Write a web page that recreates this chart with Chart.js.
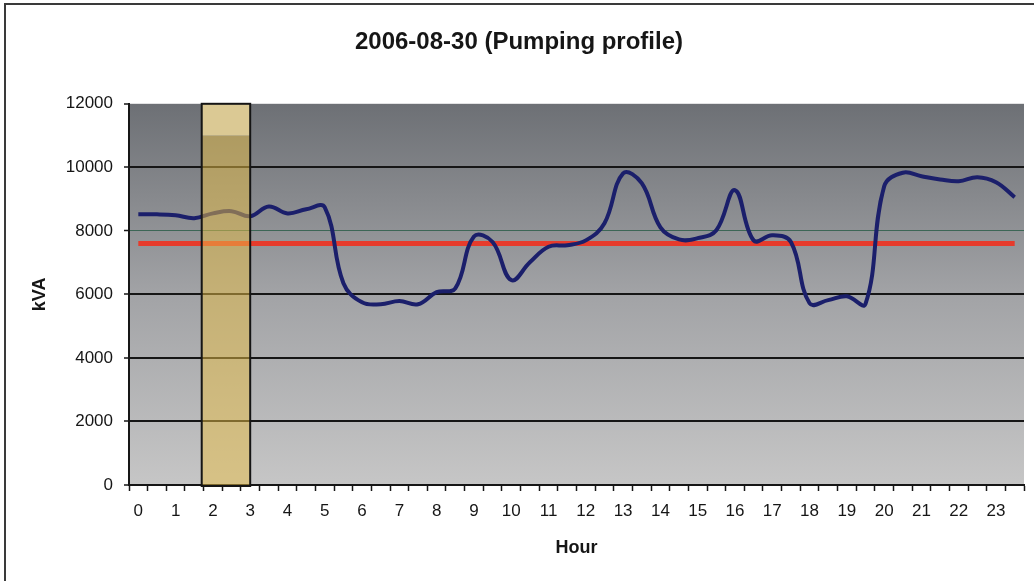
<!DOCTYPE html>
<html>
<head>
<meta charset="utf-8">
<title>2006-08-30 (Pumping profile)</title>
<script src="https://cdn.jsdelivr.net/npm/chart.js@4/dist/chart.umd.min.js"></script>
<style>
  html, body { margin: 0; padding: 0; background: #fff; }
  #wrap { width: 1034px; height: 581px; }
</style>
</head>
<body>
<div id="wrap"><canvas id="chart" width="1034" height="581"></canvas></div>
<script>
// ── Data ─────────────────────────────────────────────
// Half-hourly readings (hour of day) and measured load in kVA
const HOURS = [
  0, 0.5, 1, 1.5, 2, 2.5, 3, 3.5, 4, 4.5, 5, 5.5,
  6, 6.5, 7, 7.5, 8, 8.5, 9, 9.5, 10, 10.5, 11, 11.5,
  12, 12.5, 13, 13.5, 14, 14.5, 15, 15.5, 16, 16.5, 17, 17.5,
  18, 18.5, 19, 19.5, 20, 20.5, 21, 21.5, 22, 22.5, 23, 23.5
];
const LOAD_KVA = [
  8520, 8520, 8490, 8400, 8550, 8620, 8460, 8770, 8550, 8680, 8740, 6350,
  5750, 5690, 5790, 5690, 6070, 6190, 7820, 7650, 6450, 7010, 7500, 7550,
  7700, 8240, 9810, 9500, 8110, 7730, 7770, 8020, 9280, 7700, 7860, 7650,
  5720, 5820, 5940, 5700, 9400, 9830, 9720, 9620, 9560, 9690, 9530, 9060
];

// Average demand line (kVA), from first to last reading
const AVG_HOURS = [0, 23.5];
const AVG_KVA = [7600, 7600];

// Pumping window shaded on the plot (hours)
const WINDOW_HOURS = [1.7, 3.0];

// Axis labels
const HOUR_LABELS = ['0', '1', '2', '3', '4', '5', '6', '7', '8', '9', '10', '11',
  '12', '13', '14', '15', '16', '17', '18', '19', '20', '21', '22', '23'];
const Y_MIN = 0, Y_MAX = 12000, Y_STEP = 2000;

const FONT = "'Liberation Sans', Arial, sans-serif";
const INK = '#161616';

// ── Tick positions: labels on the hour, marks on the half-hour boundaries ──
const xTickValues = [];
for (let k = -1; k <= 95; k++) xTickValues.push(k / 4);
const isBoundary = v => Math.abs(Math.round(v * 4)) % 2 === 1;

// ── Plugins ──────────────────────────────────────────
const pageFrame = {
  id: 'pageFrame',
  beforeDraw(chart) {
    const { ctx, width, height } = chart;
    ctx.save();
    ctx.fillStyle = '#fff';
    ctx.fillRect(0, 0, width, height);
    ctx.strokeStyle = '#3a3a3a';
    ctx.lineWidth = 2;
    ctx.beginPath();
    ctx.moveTo(5, height);
    ctx.lineTo(5, 4);
    ctx.lineTo(width, 4);
    ctx.stroke();
    ctx.restore();
  }
};

const plotBackground = {
  id: 'plotBackground',
  beforeDraw(chart) {
    const { ctx, chartArea: a } = chart;
    const g = ctx.createLinearGradient(0, a.top, 0, a.bottom);
    g.addColorStop(0, '#6d7075');
    g.addColorStop(0.5, '#a2a3a6');
    g.addColorStop(1, '#c6c6c6');
    ctx.save();
    ctx.fillStyle = g;
    ctx.fillRect(a.left, a.top, a.right - a.left, a.bottom - a.top);
    ctx.restore();
  }
};

const pumpingWindow = {
  id: 'pumpingWindow',
  afterDatasetsDraw(chart) {
    const { ctx, scales: { x, y } } = chart;
    const x1 = x.getPixelForValue(WINDOW_HOURS[0]);
    const x2 = x.getPixelForValue(WINDOW_HOURS[1]);
    const yTop = y.getPixelForValue(Y_MAX);
    const yBand = y.getPixelForValue(11000);
    const yBot = y.getPixelForValue(Y_MIN);
    ctx.save();
    ctx.fillStyle = 'rgba(232, 190, 70, 0.5)';
    ctx.fillRect(x1, yBand, x2 - x1, yBot - yBand);
    ctx.fillStyle = 'rgba(224, 206, 150, 0.95)';
    ctx.fillRect(x1, yTop, x2 - x1, yBand - yTop);
    ctx.strokeStyle = '#151515';
    ctx.lineWidth = 2;
    ctx.strokeRect(x1, yTop, x2 - x1, yBot - yTop + 1);
    ctx.restore();
  }
};

// ── Chart ────────────────────────────────────────────
new Chart(document.getElementById('chart'), {
  type: 'line',
  data: {
    datasets: [
      {
        label: 'kVA',
        data: HOURS.map((h, i) => ({ x: h, y: LOAD_KVA[i] })),
        borderColor: '#1b1f6b',
        borderWidth: 4,
        pointRadius: 0,
        tension: 0.4,
        order: 1
      },
      {
        label: 'Average',
        data: AVG_HOURS.map((h, i) => ({ x: h, y: AVG_KVA[i] })),
        borderColor: '#e63b2c',
        borderWidth: 5,
        pointRadius: 0,
        order: 2
      }
    ]
  },
  options: {
    responsive: false,
    animation: false,
    layout: { padding: { left: 5, right: 1, top: 0, bottom: 0 } },
    plugins: {
      legend: { display: false },
      tooltip: { enabled: false },
      title: {
        display: true,
        text: '2006-08-30 (Pumping profile)',
        color: INK,
        font: { family: FONT, size: 24, weight: 'bold' },
        padding: { top: 28, bottom: 47 }
      }
    },
    scales: {
      x: {
        type: 'linear',
        min: -0.25,
        max: 23.75,
        afterBuildTicks: s => { s.ticks = xTickValues.map(v => ({ value: v })); },
        afterFit: s => { s.height = 96; },
        ticks: {
          autoSkip: false,
          maxRotation: 0,
          padding: 10,
          color: INK,
          font: { family: FONT, size: 17 },
          callback: v => Number.isInteger(v) ? HOUR_LABELS[v] : ''
        },
        grid: {
          drawOnChartArea: false,
          tickLength: 6,
          tickWidth: 1.5,
          tickColor: ctx => isBoundary(ctx.tick.value) ? INK : 'rgba(0,0,0,0)'
        },
        border: { color: INK, width: 2 },
        title: {
          display: true,
          text: 'Hour',
          color: INK,
          font: { family: FONT, size: 18, weight: 'bold' },
          padding: { top: 0, bottom: 22 }
        }
      },
      y: {
        min: Y_MIN,
        max: Y_MAX,
        afterFit: s => { s.width = 124; },
        ticks: {
          stepSize: Y_STEP,
          padding: 11,
          color: INK,
          font: { family: FONT, size: 17 },
          callback: v => String(v)
        },
        grid: {
          color: ctx => ctx.tick.value === Y_MAX ? 'rgba(0,0,0,0)'
            : ctx.tick.value === 8000 ? '#3d6656' : INK,
          lineWidth: ctx => ctx.tick.value === 8000 ? 1 : 2,
          tickLength: 5,
          tickWidth: 1.5,
          tickColor: INK
        },
        border: { color: INK, width: 2 },
        title: {
          display: true,
          text: 'kVA',
          color: INK,
          font: { family: FONT, size: 18, weight: 'bold' },
          padding: { top: 24, bottom: 0 }
        }
      }
    }
  },
  plugins: [pageFrame, plotBackground, pumpingWindow]
});
</script>
</body>
</html>
